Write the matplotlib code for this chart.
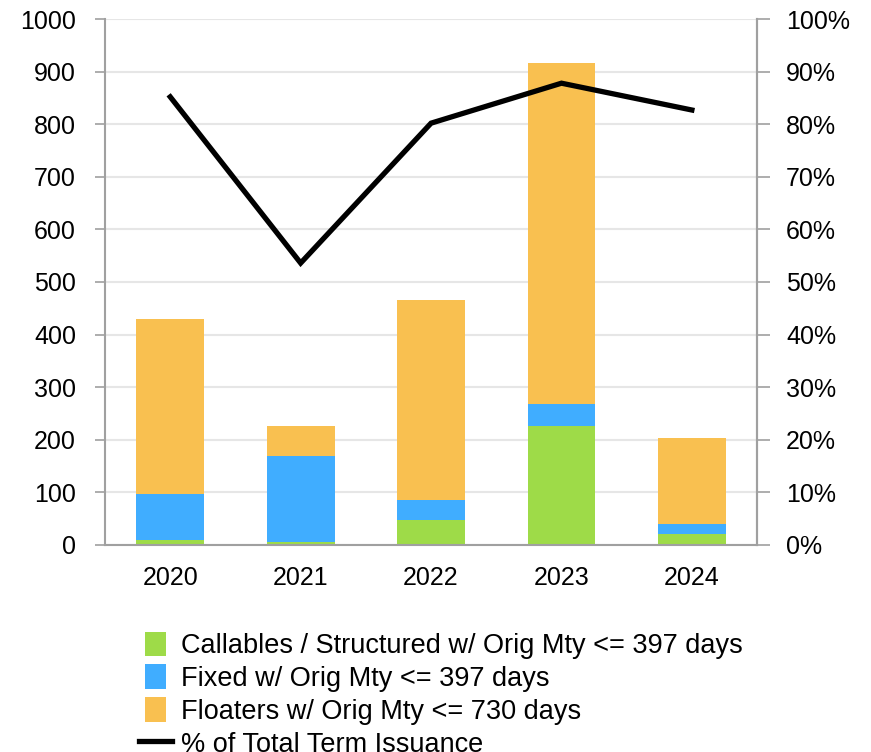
import matplotlib
matplotlib.use("Agg")
import matplotlib.pyplot as plt
from matplotlib.ticker import FuncFormatter, MultipleLocator
from matplotlib.legend_handler import HandlerPatch
from matplotlib.patches import Rectangle
import numpy as np

plt.rcParams['font.family'] = ['Liberation Sans', 'DejaVu Sans']

years = ["2020", "2021", "2022", "2023", "2024"]
callables = [10, 6, 47, 226, 20]
fixed = [87, 163, 39, 42, 20]
floaters = [333, 57, 380, 649, 163]
pct_total = [85.2, 53.6, 80.2, 87.8, 82.7]
labels = ["Callables / Structured w/ Orig Mty <= 397 days",
          "Fixed w/ Orig Mty <= 397 days",
          "Floaters w/ Orig Mty <= 730 days",
          "% of Total Term Issuance"]

green = "#9EDB48"
blue = "#40ADFF"
orange = "#F9C050"
gray = "#A0A0A0"

fig = plt.figure(figsize=(8.71, 7.52), dpi=100)
ax = fig.add_axes([0.1206, 0.2753, 0.7486, 0.6994])
x = np.arange(len(years))
w = 0.52
b1 = ax.bar(x, callables, w, color=green, zorder=2)
bot2 = np.array(callables)
b2 = ax.bar(x, fixed, w, bottom=bot2, color=blue, zorder=2)
bot3 = bot2 + np.array(fixed)
b3 = ax.bar(x, floaters, w, bottom=bot3, color=orange, zorder=2)

ax.set_xlim(-0.5, len(years) - 0.5)
ax.set_ylim(0, 1000)
ax.yaxis.set_major_locator(MultipleLocator(100))
ax.set_xticks(x)
ax.set_xticklabels(years)
ax.grid(axis='y', color='#E6E6E6', linewidth=1.5, zorder=0)
ax.set_axisbelow(True)
ax.spines['top'].set_visible(False)
for s in ['left', 'right', 'bottom']:
    ax.spines[s].set_color(gray)
    ax.spines[s].set_linewidth(1.5)
ax.tick_params(axis='y', labelsize=18, color=gray, length=7, width=1.2, pad=14)
ax.tick_params(axis='x', labelsize=18, length=0, pad=15)

ax2 = ax.twinx()
ln, = ax2.plot(x, pct_total, color='black', linewidth=3.8, zorder=3,
               solid_joinstyle='miter')
ax2.set_ylim(0, 100)
ax2.yaxis.set_major_locator(MultipleLocator(10))
ax2.yaxis.set_major_formatter(FuncFormatter(lambda v, p: f"{int(round(v))}%"))
ax2.tick_params(axis='y', labelsize=18, color=gray, length=9, width=1.2, pad=12)
for s in ['top', 'left', 'bottom']:
    ax2.spines[s].set_visible(False)
ax2.spines['right'].set_color(gray)
ax2.spines['right'].set_linewidth(1.5)


def make_patch(legend, orig_handle, xdescent, ydescent, width, height, fontsize):
    pw = width * 0.64
    ph = height * 1.0
    return Rectangle((-xdescent + width * 0.18, -ydescent + (height - ph) / 2), pw, ph)


hp = HandlerPatch(patch_func=make_patch)
h1, h2, h3 = b1.patches[0], b2.patches[0], b3.patches[0]
fig.legend(handles=[h1, h2, h3, ln], labels=labels, loc='upper left', bbox_to_anchor=(0.1435, 0.178),
           frameon=False, fontsize=19.5, handlelength=1.25, handleheight=1.0,
           handletextpad=0.3, labelspacing=0.2, borderpad=0,
           handler_map={h1: hp, h2: hp, h3: hp})

fig.savefig("out.png", dpi=100)
